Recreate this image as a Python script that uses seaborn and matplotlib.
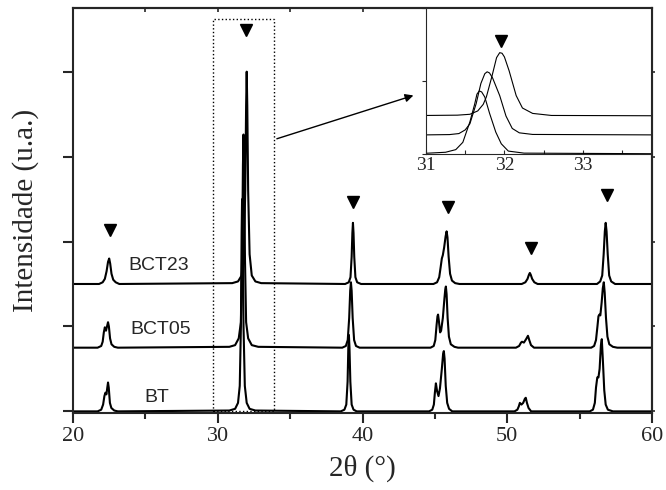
import matplotlib
matplotlib.use("Agg")
import matplotlib.pyplot as plt
from matplotlib.patches import Rectangle
from matplotlib.ticker import MultipleLocator
import seaborn as sns
import pandas as pd

# XRD patterns (y in tick units, curves already offset)
bt_x = [20.0, 21.7, 21.95, 22.08, 22.17, 22.24, 22.31, 22.37, 22.42, 22.47, 22.55, 22.65, 22.85, 23.1,
        30.8, 31.2, 31.4, 31.52, 31.6, 31.65, 31.68, 31.72, 31.78, 31.87, 32.0, 32.2, 32.6,
        38.5, 38.75, 38.88, 38.97, 39.02, 39.06, 39.1, 39.16, 39.25, 39.38, 39.6,
        44.6, 44.82, 44.93, 45.0, 45.07, 45.15, 45.25, 45.35, 45.48, 45.57, 45.62, 45.67, 45.75,
        45.85, 45.98, 46.2,
        50.5, 50.7, 50.8, 50.87, 50.98, 51.1, 51.22, 51.28, 51.36, 51.47, 51.65,
        55.7, 55.92, 56.05, 56.13, 56.22, 56.3, 56.38, 56.47, 56.53, 56.6, 56.7, 56.8, 56.95,
        57.3, 60.0]
bt_y = [0.0, 0.0, 0.02, 0.08, 0.18, 0.22, 0.2, 0.28, 0.34, 0.28, 0.1, 0.04, 0.01, 0.0,
        0.01, 0.03, 0.1, 0.3, 1.0, 2.1, 2.5, 2.1, 1.0, 0.3, 0.1, 0.03, 0.01,
        0.0, 0.02, 0.08, 0.35, 0.75, 0.9, 0.75, 0.35, 0.08, 0.02, 0.0,
        0.0, 0.02, 0.08, 0.22, 0.33, 0.24, 0.18, 0.27, 0.5, 0.68, 0.71, 0.62, 0.3,
        0.1, 0.03, 0.0,
        0.0, 0.02, 0.06, 0.10, 0.08, 0.1, 0.15, 0.16, 0.1, 0.04, 0.0,
        0.0, 0.02, 0.1, 0.28, 0.40, 0.4, 0.5, 0.78, 0.85, 0.62, 0.25, 0.08, 0.02,
        0.0, 0.0]

bct05_x = [20.0, 21.7, 21.95, 22.05, 22.13, 22.2, 22.28, 22.35, 22.42, 22.48, 22.56, 22.66, 22.85, 23.1,
           30.8, 31.2, 31.45, 31.6, 31.68, 31.74, 31.78, 31.82, 31.88, 31.96, 32.1, 32.35, 32.8,
           38.6, 38.85, 38.98, 39.08, 39.15, 39.2, 39.25, 39.32, 39.42, 39.55, 39.8,
           44.7, 44.92, 45.03, 45.12, 45.18, 45.22, 45.28, 45.36, 45.43, 45.55, 45.66, 45.72, 45.76,
           45.81, 45.88, 45.97, 46.1, 46.35, 46.6,
           50.6, 50.82, 50.95, 51.02, 51.15, 51.3, 51.43, 51.52, 51.64, 51.85,
           55.8, 56.0, 56.13, 56.23, 56.3, 56.36, 56.43, 56.52, 56.6, 56.67, 56.73, 56.82, 56.92,
           57.05, 57.3, 57.6, 60.0]
bct05_y = [0.75, 0.75, 0.77, 0.82, 0.93, 0.99, 0.95, 1.0, 1.05, 1.0, 0.86, 0.79, 0.76, 0.75,
           0.76, 0.78, 0.86, 1.05, 1.8, 2.9, 3.26, 2.9, 1.8, 1.05, 0.86, 0.78, 0.76,
           0.75, 0.77, 0.84, 1.1, 1.42, 1.52, 1.42, 1.1, 0.84, 0.77, 0.75,
           0.75, 0.77, 0.84, 1.02, 1.12, 1.14, 1.06, 0.93, 0.95, 1.1, 1.33, 1.44, 1.47,
           1.38, 1.1, 0.88, 0.79, 0.76, 0.75,
           0.75, 0.77, 0.81, 0.82, 0.81, 0.85, 0.89, 0.84, 0.78, 0.75,
           0.75, 0.77, 0.84, 1.0, 1.12, 1.14, 1.13, 1.28, 1.45, 1.52, 1.4, 1.1, 0.88,
           0.79, 0.76, 0.75, 0.75]

bct23_x = [20.0, 21.8, 22.05, 22.2, 22.32, 22.42, 22.5, 22.57, 22.66, 22.78, 22.95, 23.2,
           31.0, 31.4, 31.65, 31.8, 31.9, 31.96, 32.0, 32.04, 32.1, 32.2, 32.35, 32.6, 33.0,
           38.8, 39.05, 39.17, 39.25, 39.3, 39.34, 39.38, 39.43, 39.51, 39.63, 39.9,
           44.9, 45.15, 45.3, 45.4, 45.48, 45.55, 45.64, 45.74, 45.81, 45.87, 45.95, 46.05,
           46.18, 46.4, 46.7,
           51.0, 51.25, 51.4, 51.5, 51.56, 51.62, 51.72, 51.87, 52.1,
           56.2, 56.42, 56.56, 56.66, 56.74, 56.8, 56.86, 56.94, 57.04, 57.18, 57.45, 60.0]
bct23_y = [1.5, 1.5, 1.52, 1.56, 1.65, 1.76, 1.8, 1.74, 1.62, 1.55, 1.52, 1.5,
           1.51, 1.53, 1.6, 1.85, 2.6, 3.6, 4.0, 3.6, 2.6, 1.85, 1.6, 1.53, 1.51,
           1.5, 1.52, 1.58, 1.82, 2.1, 2.22, 2.1, 1.82, 1.58, 1.52, 1.5,
           1.5, 1.52, 1.58, 1.7, 1.8, 1.84, 1.93, 2.06, 2.12, 2.05, 1.82, 1.62,
           1.54, 1.51, 1.5,
           1.5, 1.52, 1.56, 1.61, 1.63, 1.61, 1.56, 1.52, 1.5,
           1.5, 1.53, 1.6, 1.85, 2.12, 2.22, 2.12, 1.85, 1.6, 1.53, 1.5, 1.5]

samples = ["BT", "BCT05", "BCT23"]

# perovskite peak markers
marker_x = [22.55, 31.95, 39.34, 45.9, 51.63, 56.88]
marker_y = [2.14, 4.49, 2.47, 2.41, 1.92, 2.55]

# inset: zoom on the (110) reflection, normalised intensity
ins_bt_x = [31.0, 31.25, 31.38, 31.47, 31.56, 31.62, 31.65, 31.68, 31.71, 31.75,
            31.81, 31.89, 31.96, 32.05, 32.25, 33.87]
ins_bt_y = [0.005, 0.012, 0.03, 0.08, 0.22, 0.34, 0.41, 0.432, 0.425, 0.39,
            0.28, 0.15, 0.07, 0.02, 0.006, 0.002]
ins_bct05_x = [31.0, 31.3, 31.42, 31.5, 31.56, 31.64, 31.70, 31.75, 31.78, 31.81,
               31.85, 31.94, 32.02, 32.1, 32.19, 32.36, 33.87]
ins_bct05_y = [0.131, 0.133, 0.14, 0.165, 0.207, 0.345, 0.483, 0.55, 0.563, 0.555,
               0.52, 0.40, 0.26, 0.175, 0.145, 0.134, 0.131]
ins_bct23_x = [31.0, 31.4, 31.56, 31.66, 31.73, 31.77, 31.84, 31.90, 31.94, 31.97,
               32.0, 32.06, 32.15, 32.23, 32.36, 32.6, 33.87]
ins_bct23_y = [0.264, 0.266, 0.272, 0.295, 0.34, 0.391, 0.53, 0.66, 0.694, 0.69,
               0.665, 0.57, 0.40, 0.315, 0.278, 0.264, 0.262]
ins_marker_x = [31.96]
ins_marker_y = [0.774]

sns.set_style("ticks")
plt.rcParams["font.family"] = ["Liberation Serif", "DejaVu Serif"]

df = pd.concat([
    pd.DataFrame({"x": bt_x, "y": bt_y, "sample": "BT"}),
    pd.DataFrame({"x": bct05_x, "y": bct05_y, "sample": "BCT05"}),
    pd.DataFrame({"x": bct23_x, "y": bct23_y, "sample": "BCT23"}),
])
df_ins = pd.concat([
    pd.DataFrame({"x": ins_bt_x, "y": ins_bt_y, "sample": "BT"}),
    pd.DataFrame({"x": ins_bct05_x, "y": ins_bct05_y, "sample": "BCT05"}),
    pd.DataFrame({"x": ins_bct23_x, "y": ins_bct23_y, "sample": "BCT23"}),
])
black = {s: "black" for s in samples}

fig = plt.figure(figsize=(6.66, 4.9), dpi=100)
ax = fig.add_axes([0.1096, 0.157, 0.8694, 0.8267])

sns.lineplot(data=df, x="x", y="y", hue="sample", units="sample", estimator=None,
             sort=False, palette=black, lw=1.5, legend=False, ax=ax)
ax.plot(marker_x, marker_y, "v", color="black", ms=9, ls="none")

# dotted box around the main reflection and arrow to the inset
ax.add_patch(Rectangle((29.7, 0.0), 4.2, 4.62, fill=False, ls=":", lw=1.0, ec="black"))
ax.annotate("", xy=(43.7, 3.73), xytext=(33.9, 3.2),
            arrowprops=dict(arrowstyle="-|>", color="black", lw=1.0, mutation_scale=12))

lab_font = dict(family="Liberation Sans", fontsize=14)
ax.text(25.94, 1.72, "BCT23", ha="center", va="center", **lab_font)
ax.text(26.07, 0.96, "BCT05", ha="center", va="center", **lab_font)
ax.text(25.8, 0.16, "BT", ha="center", va="center", **lab_font)

ax.set_xlim(20, 60)
ax.set_ylim(-0.02, 4.75)
ax.xaxis.set_major_locator(MultipleLocator(10))
ax.xaxis.set_minor_locator(MultipleLocator(5))
ax.set_yticks([0, 1, 2, 3, 4])
ax.set_yticklabels([])
ax.tick_params(axis="x", which="major", direction="out", length=7, width=1.5, labelsize=16, pad=3)
ax.tick_params(axis="x", which="minor", direction="out", length=4, width=1.5)
ax.tick_params(axis="y", direction="out", length=7, width=1.5)
for sp in ax.spines.values():
    sp.set_linewidth(1.5)
    sp.set_visible(True)

top = ax.secondary_xaxis("top")
top.set_xticks(range(20, 61, 5))
top.tick_params(direction="in", length=3, width=1.2, labeltop=False)
top.spines["top"].set_linewidth(1.5)
right = ax.secondary_yaxis("right")
right.set_yticks([0, 1, 2, 3, 4])
right.tick_params(direction="out", length=2.5, width=1.2, labelright=False)
right.spines["right"].set_linewidth(1.5)

ax.set_xlabel("2θ (°)", fontsize=21, labelpad=6)
ax.set_ylabel("Intensidade (u.a.)", fontsize=21, labelpad=14)

# inset
ins = fig.add_axes([0.6396, 0.6857, 0.338, 0.2980])
ins.set_facecolor("white")
sns.lineplot(data=df_ins, x="x", y="y", hue="sample", units="sample", estimator=None,
             sort=False, palette=black, lw=0.8, legend=False, ax=ins)
ins.plot(ins_marker_x, ins_marker_y, "v", color="black", ms=9, ls="none")
ins.set_xlim(31, 33.87)
ins.set_ylim(0, 1)
ins.xaxis.set_major_locator(MultipleLocator(1))
ins.xaxis.set_minor_locator(MultipleLocator(0.5))
ins.set_yticks([0, 0.5, 1])
ins.set_yticklabels([])
ins.tick_params(axis="x", which="both", direction="in", length=3, width=0.8, labelsize=14, pad=2)
ins.tick_params(axis="y", direction="out", length=3, width=0.8)
ins.set_xlabel("")
ins.set_ylabel("")
for sp in ins.spines.values():
    sp.set_linewidth(0.8)

fig.savefig("out.png", dpi=100)
